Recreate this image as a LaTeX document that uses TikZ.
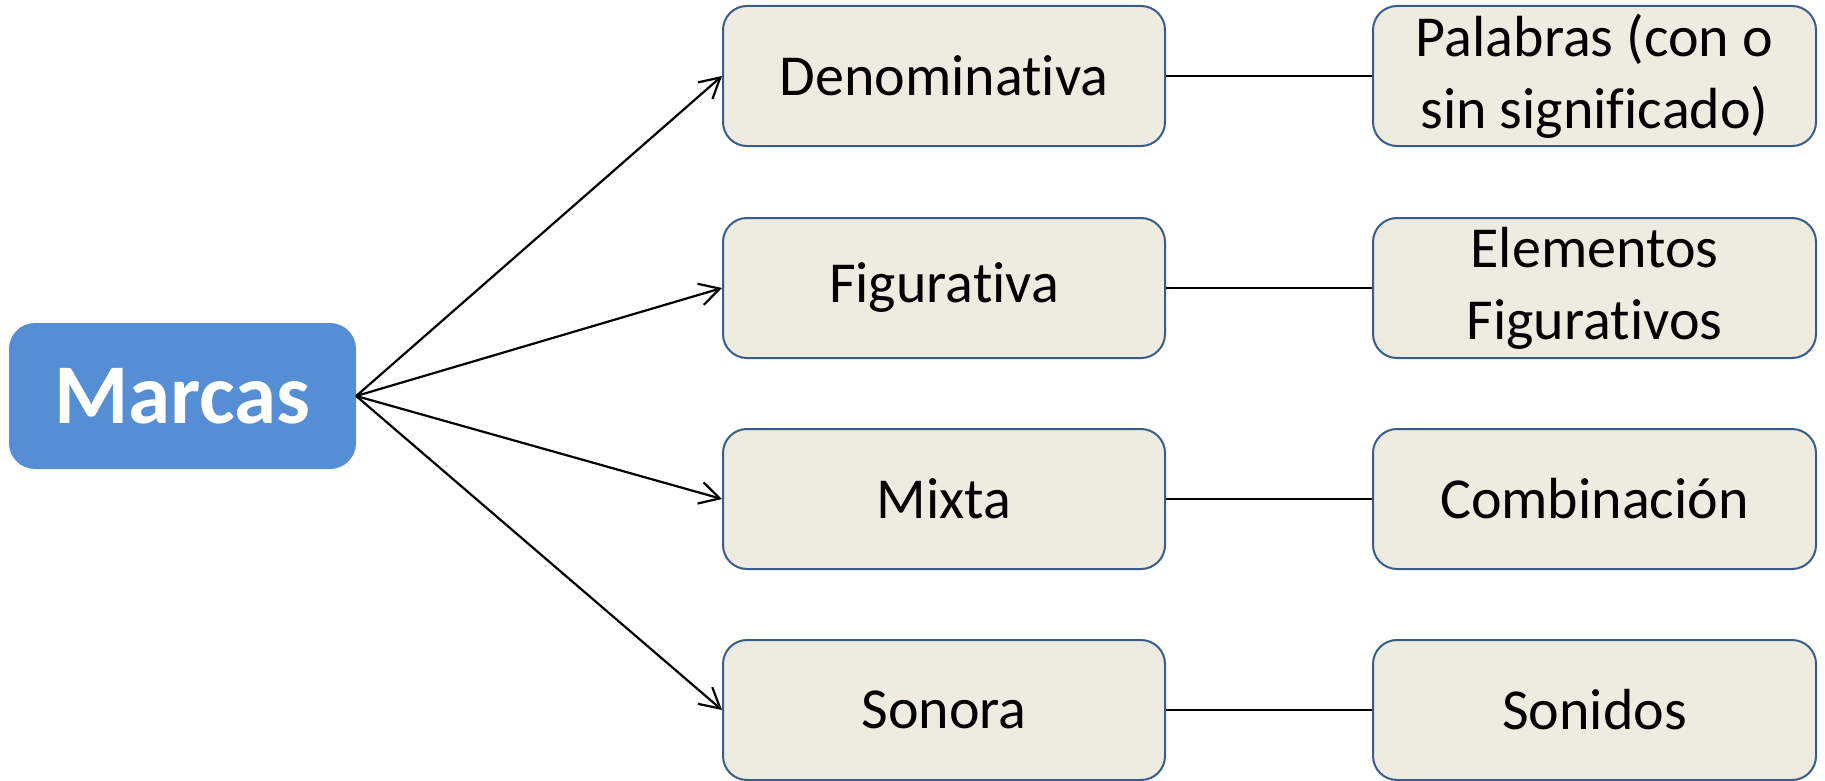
\documentclass[tikz,border=0pt]{standalone}
\usepackage{fontspec}
\setmainfont{Carlito}[Ligatures=NoCommon]
\usetikzlibrary{arrows.meta}
\definecolor{mainblue}{HTML}{558ED5}
\definecolor{boxfill}{HTML}{EEEBE0}
\definecolor{boxline}{HTML}{385D8A}
\tikzset{
  mainbox/.style={fill=mainblue, draw=none, rounded corners=26pt, minimum width=347pt, minimum height=146pt, inner sep=0pt, text=white, font=\fontsize{85}{90}\selectfont\bfseries},
  catbox/.style={fill=boxfill, draw=boxline, line width=2pt, rounded corners=24pt, minimum width=442pt, minimum height=140pt, inner sep=0pt, font=\fontsize{58}{72}\selectfont, align=center},
  link/.style={line width=2.2pt, draw=black},
  arr/.style={link, -{Straight Barb[length=20pt,width=22pt,line width=2.2pt]}}
}
\begin{document}
\begin{tikzpicture}[x=1pt,y=-1pt]
\useasboundingbox (0,0) rectangle (1825,781);
\node[mainbox] (marcas) at (182.5,396) {Marcas};
\node[catbox] (den) at (944,76) {Denominativa};
\node[catbox] (fig) at (944,288) {Figurativa};
\node[catbox] (mix) at (944,499) {Mixta};
\node[catbox] (son) at (944,710) {Sonora};
\node[catbox, minimum width=443pt] (pal) at (1594.5,76) {Palabras (con o\\sin significado)};
\node[catbox, minimum width=443pt] (ele) at (1594.5,288) {Elementos\\Figurativos};
\node[catbox, minimum width=443pt] (com) at (1594.5,499) {Combinación};
\node[catbox, minimum width=443pt] (soni) at (1594.5,710) {Sonidos};
\draw[arr] (marcas.east) -- (den.west);
\draw[arr] (marcas.east) -- (fig.west);
\draw[arr] (marcas.east) -- (mix.west);
\draw[arr] (marcas.east) -- (son.west);
\draw[link] (den.east) -- (pal.west);
\draw[link] (fig.east) -- (ele.west);
\draw[link] (mix.east) -- (com.west);
\draw[link] (son.east) -- (soni.west);
\end{tikzpicture}
\end{document}
